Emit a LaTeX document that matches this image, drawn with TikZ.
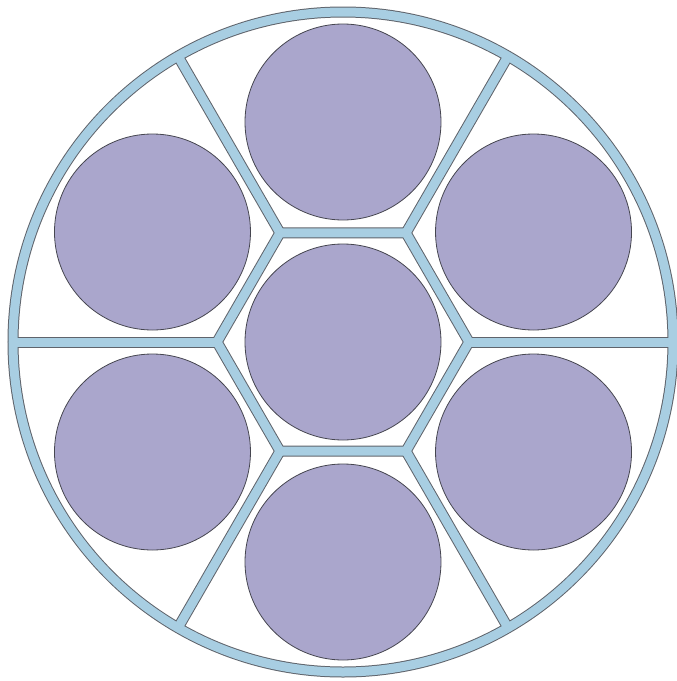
\documentclass[tikz,border=0pt]{standalone}
\usetikzlibrary{calc}
\definecolor{wallblue}{RGB}{168,206,226}
\definecolor{walledge}{RGB}{95,100,108}
\definecolor{discfill}{RGB}{170,166,204}
\definecolor{discedge}{RGB}{70,70,80}
\begin{document}
\begin{tikzpicture}[x=1pt,y=-1pt,
  wallout/.style={draw=walledge,line width=11pt,line join=miter},
  wallin/.style={draw=wallblue,line width=9pt,line join=miter},
  disc/.style={circle,draw=discedge,fill=discfill,line width=0.8pt,minimum size=196pt,inner sep=0pt}]
\useasboundingbox (0,0) rectangle (677,681);
\coordinate (O) at (343,342);
\foreach \a in {0,60,...,300}{
  \coordinate (h\a) at ($(O)+(\a:126pt)$);
  \coordinate (o\a) at ($(O)+(\a:330pt)$);
}
\foreach \s in {wallout,wallin}{
  \draw[\s] (O) circle (330pt);
  \draw[\s] (h0)--(h60)--(h120)--(h180)--(h240)--(h300)--cycle;
  \foreach \a in {0,60,...,300}{
    \draw[\s] (h\a)--(o\a);
  }
}
\node[disc] (c0) at (O) {};
\node[disc] (c1) at ($(O)+(90:220pt)$) {};
\node[disc] (c2) at ($(O)+(150:220pt)$) {};
\node[disc] (c3) at ($(O)+(210:220pt)$) {};
\node[disc] (c4) at ($(O)+(270:220pt)$) {};
\node[disc] (c5) at ($(O)+(330:220pt)$) {};
\node[disc] (c6) at ($(O)+(30:220pt)$) {};
\end{tikzpicture}
\end{document}
